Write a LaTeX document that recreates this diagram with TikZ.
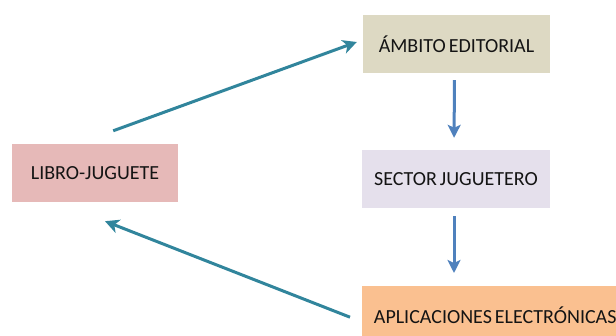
\documentclass[tikz,border=0pt]{standalone}
\usepackage{fontspec}
\setmainfont{Carlito}
\usetikzlibrary{arrows.meta}

\definecolor{libfill}{RGB}{230,185,184}
\definecolor{ambfill}{RGB}{221,217,195}
\definecolor{secfill}{RGB}{229,224,236}
\definecolor{aplfill}{RGB}{250,192,144}
\definecolor{tealline}{RGB}{49,133,156}
\definecolor{blueline}{RGB}{79,129,189}
\definecolor{txt}{RGB}{20,20,20}

% box label font with tight word spacing
\newcommand\boxlabelfont{\fontsize{20}{24}\selectfont\spaceskip=3pt plus 1pt minus 0.5pt\relax}

\tikzset{
  stagebox/.style={rectangle, inner sep=0pt, minimum height=58pt,
    text=txt, font=\boxlabelfont},
  tealarrow/.style={draw=tealline, line width=3pt,
    -{Stealth[length=14pt, width=14pt, inset=4pt]}},
  bluearrow/.style={draw=blueline, line width=3pt,
    -{Stealth[length=13pt, width=13pt, inset=3pt]}}
}

\begin{document}
\begin{tikzpicture}[x=1pt, y=-1pt]
  \useasboundingbox (0,0) rectangle (616,336);
  \clip (0,0) rectangle (616,336);

  % the four boxes
  \node[stagebox, fill=libfill, minimum width=166pt] (lib) at (95,173) {LIBRO-JUGUETE};
  \node[stagebox, fill=ambfill, minimum width=187pt] (amb) at (456.5,44) {ÁMBITO EDITORIAL};
  \node[stagebox, fill=secfill, minimum width=188pt] (sec) at (456,179) {SECTOR JUGUETERO};
  \node[stagebox, fill=aplfill, minimum width=266pt, anchor=north west] (apl) at (362,286) {APLICACIONES ELECTRÓNICAS};

  % vertical chain on the right
  \draw[bluearrow, shorten <=7pt, shorten >=12pt] ([xshift=-2pt]amb.south) -- ([xshift=-2pt]sec.north);
  \draw[bluearrow, shorten <=8pt, shorten >=13pt] ([xshift=-2pt]sec.south) -- ([xshift=-2pt]sec.south |- apl.north);

  % diagonal links with the book-toy
  \draw[tealarrow] ([shift={(-65,-13)}]lib.north east) -- ([shift={(-6,-2)}]amb.west);
  \draw[tealarrow] ([shift={(-12,2)}]apl.west) -- ([shift={(10,19)}]lib.south);
\end{tikzpicture}
\end{document}
